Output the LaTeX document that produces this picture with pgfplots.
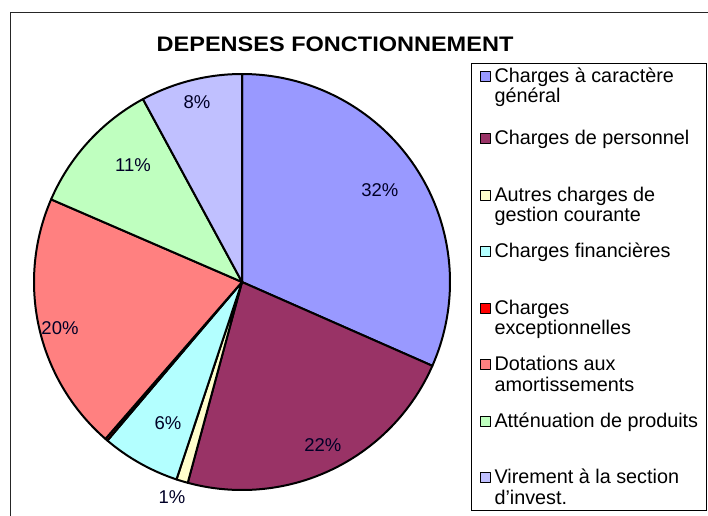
\documentclass[border=0pt]{standalone}
\usepackage{fontspec}
\setmainfont{Liberation Sans}
\usepackage{pgfplots}
\usepackage{pgfplotstable}
\pgfplotsset{compat=1.18}
\definecolor{pc0}{HTML}{9999FF}
\definecolor{pc1}{HTML}{993366}
\definecolor{pc2}{HTML}{FFFFCC}
\definecolor{pc3}{HTML}{B3FFFF}
\definecolor{pc4}{HTML}{FF0000}
\definecolor{pc5}{HTML}{FF8080}
\definecolor{pc6}{HTML}{BFFFBF}
\definecolor{pc7}{HTML}{C0C0FF}
\pgfplotstableread{
value
31.6
22.6
0.9
6.1
0.2
20.1
10.6
7.9
}\piedata
\pgfplotsset{
  pieslice/.style={draw=black, line width=2pt, line join=round, samples=100},
  slice/.style={domain=\csname pE#1\endcsname:\csname pS#1\endcsname},
}
\newcommand\legfirst{\rule[-43.7pt]{0pt}{60.2pt}}
\newcommand\legslot{\rule[-37.8pt]{0pt}{56.5pt}}
\newcommand\leglast{\rule[-25pt]{0pt}{43.7pt}}
\begin{document}
\begin{tikzpicture}
\useasboundingbox (0,0) rectangle (708pt,515pt);
\draw[line width=1pt, black!85] (10.5pt,-10pt) |- (720pt,502.5pt);
\xdef\cumA{90}%
\foreach \i in {0,...,7}{%
  \pgfplotstablegetelem{\i}{value}\of\piedata
  \pgfmathsetmacro\endA{\cumA-3.6*\pgfplotsretval}%
  \expandafter\xdef\csname pS\i\endcsname{\cumA}%
  \expandafter\xdef\csname pE\i\endcsname{\endA}%
  \xdef\cumA{\endA}%
}
\begin{axis}[
  at={(242pt,233pt)}, anchor=center,
  scale only axis, width=416pt, height=416pt,
  xmin=-1, xmax=1, ymin=-1, ymax=1,
  hide axis, clip=false,
  title={\scalebox{1.12}[1]{DEPENSES FONCTIONNEMENT}},
  title style={at={(axis description cs:0.7236,1.0385)}, anchor=base,
    font=\bfseries\fontsize{21}{25}\selectfont, inner sep=0pt},
  legend image code/.code={\draw[#1,line width=0.8pt] (0pt,1pt) rectangle (10pt,11pt);},
  legend cell align=left,
  legend style={at={(axis description cs:1.0498,1.0257)}, anchor=north west,
    draw=black, line width=0.8pt, fill=white,
    inner xsep=8.6pt, inner ysep=2pt, row sep=0pt, column sep=4pt,
    font=\fontsize{19.8}{20.5}\selectfont,
    nodes={inner sep=0pt, text depth=, text height=},
    cells={anchor=base west, text depth=, text height=}},
]
\addplot[pieslice, fill=pc0, slice=0] ({cos(x)},{sin(x)}) -- (axis cs:0,0) -- cycle;
\addlegendentry{\legfirst\vtop{\hbox{Charges à caractère}\hbox{général}}}
\addplot[pieslice, fill=pc1, slice=1] ({cos(x)},{sin(x)}) -- (axis cs:0,0) -- cycle;
\addlegendentry{\legslot Charges de personnel}
\addplot[pieslice, fill=pc2, slice=2] ({cos(x)},{sin(x)}) -- (axis cs:0,0) -- cycle;
\addlegendentry{\legslot\vtop{\hbox{Autres charges de}\hbox{gestion courante}}}
\addplot[pieslice, fill=pc3, slice=3] ({cos(x)},{sin(x)}) -- (axis cs:0,0) -- cycle;
\addlegendentry{\legslot Charges financières}
\addplot[pieslice, fill=pc4, slice=4] ({cos(x)},{sin(x)}) -- (axis cs:0,0) -- cycle;
\addlegendentry{\legslot\vtop{\hbox{Charges}\hbox{exceptionnelles}}}
\addplot[pieslice, fill=pc5, slice=5] ({cos(x)},{sin(x)}) -- (axis cs:0,0) -- cycle;
\addlegendentry{\legslot\vtop{\hbox{Dotations aux}\hbox{amortissements}}}
\addplot[pieslice, fill=pc6, slice=6] ({cos(x)},{sin(x)}) -- (axis cs:0,0) -- cycle;
\addlegendentry{\legslot Atténuation de produits}
\addplot[pieslice, fill=pc7, slice=7] ({cos(x)},{sin(x)}) -- (axis cs:0,0) -- cycle;
\addlegendentry{\leglast\vtop{\hbox{Virement à la section}\hbox{d'invest.}}}
\addplot[draw=none, forget plot, nodes near coords, point meta=explicit symbolic,
  nodes near coords style={anchor=center, inner sep=0pt, text=black!85!blue,
    font=\fontsize{18.5}{22}\selectfont}]
  coordinates {
  (0.663,0.442) [32\%]
  (0.389,-0.784) [22\%]
  (-0.337,-1.034) [1\%]
  (-0.356,-0.678) [6\%]
  (-0.875,-0.221) [20\%]
  (-0.524,0.5625) [11\%]
  (-0.216,0.865) [8\%]
  };
\end{axis}
\end{tikzpicture}
\end{document}
